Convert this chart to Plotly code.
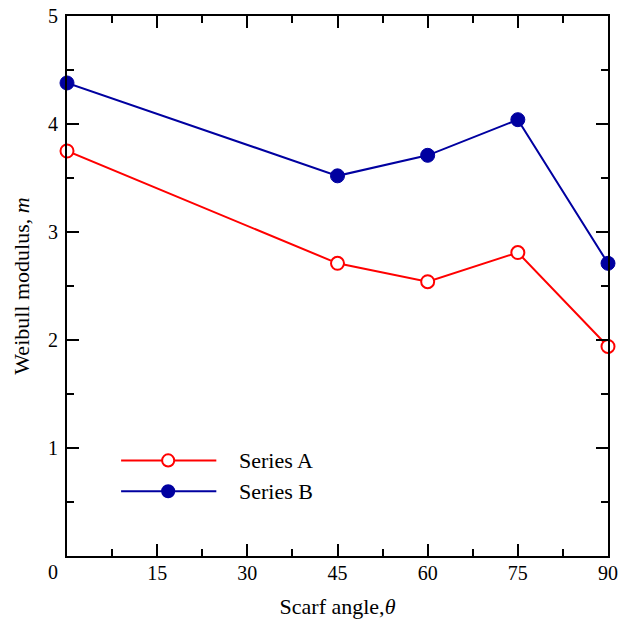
import plotly.graph_objects as go

# Scarf angle (deg) and Weibull modulus for the two series
angles = [0, 45, 60, 75, 90]
series_a = [3.75, 2.71, 2.54, 2.81, 1.94]
series_b = [4.38, 3.52, 3.71, 4.04, 2.71]

x_ticks = [0, 15, 30, 45, 60, 75, 90]
x_labels = ["", "15", "30", "45", "60", "75", "90"]
y_ticks = [0, 1, 2, 3, 4, 5]
y_labels = ["", "1", "2", "3", "4", "5"]

RED = "#ff0000"
BLUE = "#0000a0"
FONT = "Liberation Serif, Times New Roman, serif"

fig = go.Figure()
fig.add_trace(go.Scatter(
    x=angles, y=series_a, mode="lines+markers", name="Series A",
    line=dict(color=RED, width=2),
    marker=dict(symbol="circle", size=13, color="white",
                line=dict(color=RED, width=2)),
    cliponaxis=False, showlegend=False,
))
fig.add_trace(go.Scatter(
    x=angles, y=series_b, mode="lines+markers", name="Series B",
    line=dict(color=BLUE, width=2),
    marker=dict(symbol="circle", size=14, color=BLUE,
                line=dict(color=BLUE, width=1)),
    cliponaxis=False, showlegend=False,
))

axis_common = dict(
    showline=True, linecolor="black", linewidth=2,
    mirror="ticks", ticks="inside", ticklen=12, tickwidth=1.5,
    tickcolor="black", showgrid=False, zeroline=False, automargin=False,
    tickfont=dict(family=FONT, size=20, color="black"),
)

fig.update_xaxes(
    range=[0, 90], tickmode="array", tickvals=x_ticks, ticktext=x_labels,
    minor=dict(dtick=7.5, tick0=0, ticks="inside", ticklen=7,
               tickwidth=1.5, tickcolor="black", showgrid=False),
    title=dict(text="Scarf angle,<i>θ</i>", standoff=16,
               font=dict(family=FONT, size=22, color="black")),
    ticklabelstandoff=-2,
    **axis_common,
)
fig.update_yaxes(
    range=[0, 5], tickmode="array", tickvals=y_ticks, ticktext=y_labels,
    minor=dict(dtick=0.5, tick0=0, ticks="inside", ticklen=7,
               tickwidth=1.5, tickcolor="black", showgrid=False),
    title=dict(text="Weibull modulus, <i>m</i>", standoff=12,
               font=dict(family=FONT, size=22, color="black")),
    ticklabelstandoff=3,
    **axis_common,
)

# shared origin label
fig.add_annotation(x=-0.026, y=-0.005, xref="paper", yref="paper",
                   text="0", showarrow=False, xanchor="center", yanchor="top",
                   font=dict(family=FONT, size=20, color="black"))

# hand-built legend with long line samples
legend_rows = [("Series A", RED, "white", 0.177), ("Series B", BLUE, BLUE, 0.120)]
x0, x1, xm = 0.100, 0.276, 0.187
for label, col, fill, yp in legend_rows:
    fig.add_shape(type="line", xref="paper", yref="paper",
                  x0=x0, x1=x1, y0=yp, y1=yp, line=dict(color=col, width=2))
    fig.add_shape(type="circle", xref="paper", yref="paper",
                  x0=xm - 0.0112, x1=xm + 0.0112, y0=yp - 0.0112, y1=yp + 0.0112,
                  fillcolor=fill, line=dict(color=col, width=2))
    fig.add_annotation(x=0.314, y=yp, xref="paper", yref="paper", text=label,
                       showarrow=False, xanchor="left", yanchor="middle",
                       font=dict(family=FONT, size=22, color="black"))

fig.update_layout(
    width=632, height=622,
    margin=dict(l=67, r=24, t=16, b=66),
    paper_bgcolor="white", plot_bgcolor="white",
    font=dict(family=FONT, color="black"),
)

fig.write_html("out.html")
